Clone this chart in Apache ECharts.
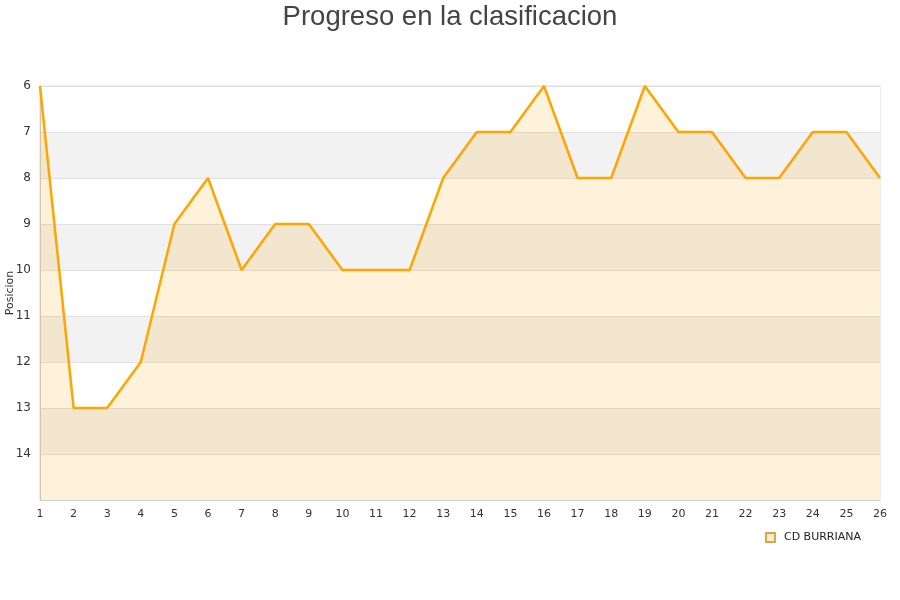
<!DOCTYPE html>
<html><head><meta charset="utf-8">
<script src="https://cdn.jsdelivr.net/npm/echarts@6/dist/echarts.min.js"></script>
<style>html,body{margin:0;padding:0;background:#fff}#c{width:900px;height:600px}</style>
</head><body><div id="c"></div>
<script>
var jornadas = ['1','2','3','4','5','6','7','8','9','10','11','12','13','14','15','16','17','18','19','20','21','22','23','24','25','26'];
var posiciones = [6,13,13,12,9,8,10,9,9,10,10,10,8,7,7,6,8,8,6,7,7,8,8,7,7,8];
var teamName = 'CD BURRIANA';
var chart = echarts.init(document.getElementById('c'));
chart.setOption({
  animation: false,
  title: {text: 'Progreso en la clasificacion', left: 'center', top: -2,
    textStyle: {fontFamily: 'Liberation Sans', fontSize: 27.5, fontWeight: 'normal', color: '#444'}},
  grid: {left: 40, right: 20, top: 86, bottom: 100, containLabel: false, outerBoundsMode: 'none',
    show: true, borderColor: '#dddddd', borderWidth: 1},
  legend: {data: [teamName], right: 34, bottom: 52, icon: 'rect', itemWidth: 9, itemHeight: 9, itemGap: 8,
    textStyle: {fontFamily: 'DejaVu Sans', fontSize: 11, color: '#222', padding: [0, 0, 0, 4]}},
  xAxis: {type: 'category', data: jornadas, boundaryGap: false,
    axisLine: {show: true, lineStyle: {color: '#ccc'}}, axisTick: {show: false},
    axisLabel: {fontFamily: 'DejaVu Sans', fontSize: 11, color: '#333', margin: 9},
    splitLine: {show: false}},
  yAxis: {type: 'value', inverse: true, min: 6, max: 15, interval: 1,
    name: 'Posicion', nameLocation: 'middle', nameGap: 24, nameRotate: 90, nameMoveOverlap: false,
    nameTextStyle: {fontFamily: 'DejaVu Sans', fontSize: 11, color: '#333'},
    axisLine: {show: true, lineStyle: {color: '#ccc'}}, axisTick: {show: false},
    axisLabel: {fontFamily: 'DejaVu Sans', fontSize: 12, color: '#333', margin: 9,
      formatter: function(v){ return v === 15 ? '' : String(v); }},
    splitLine: {show: true, lineStyle: {color: '#e0e0e0'}},
    splitArea: {show: true, areaStyle: {color: ['#ffffff', '#f2f2f2']}}},
  series: [{name: teamName, type: 'line', data: posiciones, symbol: 'none',
    lineStyle: {color: '#FFA500', width: 2.5}, itemStyle: {color: '#FFEDCC', borderColor: '#d9a54a', borderWidth: 1},
    areaStyle: {color: 'rgba(255,165,0,0.2)', origin: 'end'}}]
});
</script></body></html>
